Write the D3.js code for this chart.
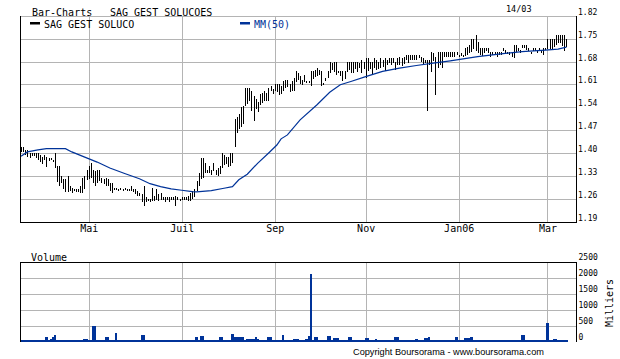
<!DOCTYPE html>
<html>
<head>
<meta charset="utf-8">
<script src="https://cdn.jsdelivr.net/npm/d3@7"></script>
<style>
  body { margin: 0; background: #fff; }
  svg { display: block; }
</style>
</head>
<body>
<svg id="chart" width="620" height="359"></svg>
<script>
// one value per trading day, from 17/03/2005 to 14/03/2006 (one line per week)
const highs = [
  1.42, 1.42,
  1.41, 1.41, 1.40, 1.40, 1.40,
  1.40, 1.40, 1.395, 1.39, 1.395,
  1.39, 1.385, 1.385, 1.38, 1.40,
  1.36, 1.36, 1.33, 1.32, 1.32,
  1.33, 1.30, 1.295, 1.29, 1.29,
  1.29, 1.30, 1.325, 1.33, 1.35,
  1.36, 1.37, 1.35, 1.345, 1.35,
  1.35, 1.325, 1.32, 1.325, 1.32,
  1.31, 1.31, 1.295, 1.295, 1.29,
  1.295, 1.29, 1.295, 1.29, 1.29,
  1.30, 1.29, 1.29, 1.285, 1.28,
  1.275, 1.30, 1.265, 1.26, 1.26,
  1.295, 1.27, 1.29, 1.275, 1.28,
  1.265, 1.265, 1.265, 1.265, 1.265,
  1.265, 1.27, 1.265, 1.26, 1.265,
  1.265, 1.265, 1.27, 1.28, 1.285,
  1.29, 1.315, 1.34, 1.385, 1.385,
  1.37, 1.35, 1.36, 1.35, 1.37,
  1.35, 1.355, 1.36, 1.40, 1.395,
  1.39, 1.39, 1.40, 1.40, 1.505,
  1.51, 1.52, 1.54, 1.545, 1.60,
  1.60, 1.60, 1.59, 1.575, 1.565,
  1.555, 1.58, 1.585, 1.59, 1.585,
  1.60, 1.605, 1.595, 1.61, 1.61,
  1.61, 1.605, 1.62, 1.625, 1.625,
  1.61, 1.62, 1.63, 1.65, 1.645,
  1.635, 1.625, 1.64, 1.62, 1.62,
  1.65, 1.65, 1.655, 1.66, 1.655,
  1.65, 1.615, 1.63, 1.65, 1.68,
  1.675, 1.68, 1.68, 1.65, 1.65,
  1.65, 1.65, 1.68, 1.68, 1.68,
  1.68, 1.68, 1.68, 1.675, 1.685,
  1.68, 1.69, 1.69, 1.68, 1.68,
  1.69, 1.685, 1.68, 1.69, 1.685,
  1.69, 1.685, 1.69, 1.69, 1.69,
  1.68, 1.69, 1.695, 1.69, 1.695,
  1.70, 1.70, 1.70, 1.70, 1.70,
  1.70, 1.70, 1.695, 1.69, 1.685,
  1.685, 1.685, 1.71, 1.705, 1.695,
  1.71, 1.71, 1.71, 1.71, 1.71,
  1.71, 1.71, 1.71, 1.71, 1.71,
  1.70, 1.705, 1.70, 1.72, 1.725,
  1.73, 1.75, 1.75, 1.76, 1.74,
  1.72, 1.72, 1.72, 1.72, 1.72,
  1.71, 1.71, 1.71, 1.71, 1.71,
  1.71, 1.72, 1.715, 1.71, 1.71,
  1.71, 1.73, 1.73, 1.72, 1.715,
  1.73, 1.73, 1.73, 1.72, 1.71,
  1.72, 1.72, 1.715, 1.72, 1.715,
  1.72, 1.72, 1.75, 1.75, 1.75,
  1.75, 1.76, 1.76, 1.76, 1.76,
  1.76, 1.75
]

const lows = [
  1.405, 1.405,
  1.395, 1.39, 1.385, 1.39, 1.39,
  1.385, 1.38, 1.375, 1.37, 1.38,
  1.36, 1.375, 1.38, 1.375, 1.355,
  1.31, 1.30, 1.31, 1.29, 1.28,
  1.28, 1.285, 1.28, 1.285, 1.28,
  1.28, 1.28, 1.28, 1.29, 1.32,
  1.32, 1.325, 1.31, 1.30, 1.31,
  1.315, 1.31, 1.305, 1.30, 1.30,
  1.285, 1.28, 1.29, 1.29, 1.29,
  1.29, 1.29, 1.29, 1.285, 1.29,
  1.285, 1.28, 1.275, 1.27, 1.27,
  1.25, 1.24, 1.25, 1.255, 1.25,
  1.255, 1.255, 1.255, 1.255, 1.26,
  1.255, 1.25, 1.255, 1.25, 1.255,
  1.255, 1.24, 1.255, 1.255, 1.255,
  1.255, 1.255, 1.255, 1.255, 1.26,
  1.265, 1.285, 1.30, 1.32, 1.325,
  1.34, 1.34, 1.34, 1.335, 1.345,
  1.335, 1.33, 1.335, 1.355, 1.365,
  1.37, 1.36, 1.36, 1.37, 1.42,
  1.46, 1.475, 1.48, 1.49, 1.545,
  1.55, 1.56, 1.53, 1.50, 1.535,
  1.525, 1.545, 1.555, 1.56, 1.56,
  1.56, 1.59, 1.58, 1.59, 1.585,
  1.575, 1.58, 1.59, 1.60, 1.605,
  1.585, 1.59, 1.59, 1.615, 1.625,
  1.61, 1.61, 1.62, 1.615, 1.615,
  1.605, 1.625, 1.635, 1.635, 1.64,
  1.605, 1.612, 1.62, 1.63, 1.645,
  1.655, 1.65, 1.64, 1.645, 1.635,
  1.62, 1.625, 1.65, 1.655, 1.645,
  1.645, 1.66, 1.65, 1.66, 1.645,
  1.66, 1.63, 1.65, 1.66, 1.64,
  1.66, 1.655, 1.66, 1.66, 1.665,
  1.65, 1.67, 1.675, 1.67, 1.675,
  1.655, 1.67, 1.67, 1.665, 1.675,
  1.685, 1.675, 1.685, 1.685, 1.685,
  1.685, 1.69, 1.68, 1.67, 1.675,
  1.53, 1.67, 1.65, 1.68, 1.578,
  1.66, 1.67, 1.66, 1.695, 1.695,
  1.695, 1.695, 1.695, 1.695, 1.70,
  1.695, 1.695, 1.695, 1.695, 1.70,
  1.705, 1.71, 1.72, 1.71, 1.705,
  1.70, 1.695, 1.705, 1.71, 1.705,
  1.695, 1.70, 1.70, 1.695, 1.70,
  1.70, 1.71, 1.705, 1.705, 1.70,
  1.695, 1.69, 1.71, 1.71, 1.705,
  1.72, 1.72, 1.715, 1.71, 1.705,
  1.71, 1.71, 1.705, 1.71, 1.705,
  1.70, 1.715, 1.72, 1.72, 1.72,
  1.725, 1.73, 1.735, 1.735, 1.725,
  1.71, 1.725
]

// volume, thousands of shares
const volumes = [
  50, 50,
  50, 50, 50, 50, 50,
  50, 50, 50, 50, 50,
  140, 50, 80, 160, 210,
  50, 50, 50, 60, 50,
  60, 50, 50, 50, 50,
  50, 50, 50, 100, 100,
  50, 50, 480, 480, 50,
  60, 50, 50, 160, 160,
  50, 50, 50, 270, 50,
  50, 50, 50, 50, 50,
  60, 50, 50, 50, 50,
  210, 210, 60, 50, 60,
  50, 50, 50, 50, 50,
  50, 50, 50, 50, 50,
  60, 60, 50, 50, 50,
  50, 60, 60, 60, 50,
  50, 160, 50, 180, 180,
  50, 50, 50, 50, 50,
  50, 50, 150, 150, 50,
  50, 50, 50, 240, 150,
  150, 150, 150, 150, 50,
  100, 100, 100, 100, 150,
  100, 50, 50, 50, 50,
  150, 150, 50, 50, 50,
  50, 50, 220, 50, 50,
  50, 50, 100, 100, 100,
  50, 50, 50, 100, 170,
  2120, 50, 160, 160, 50,
  50, 50, 50, 190, 190,
  50, 120, 120, 120, 50,
  50, 50, 50, 150, 150,
  50, 50, 50, 50, 50,
  50, 120, 120, 50, 50,
  50, 70, 50, 50, 50,
  50, 50, 50, 50, 50,
  160, 160, 50, 50, 50,
  50, 50, 50, 50, 50,
  90, 50, 50, 50, 120,
  120, 160, 50, 50, 50,
  50, 50, 50, 50, 50,
  50, 50, 50, 50, 160,
  50, 50, 50, 120, 120,
  120, 160, 50, 50, 50,
  50, 50, 50, 50, 50,
  50, 50, 50, 50, 50,
  50, 50, 50, 50, 50,
  50, 50, 50, 50, 50,
  220, 220, 50, 50, 50,
  50, 50, 50, 50, 50,
  50, 50, 590, 50, 50,
  80, 80, 50, 50, 50,
  50, 50
]

// MM(50)
const mmDates = [
  '2005-03-17', '2005-03-22', '2005-03-29', '2005-04-04', '2005-04-15', '2005-04-20',
  '2005-04-29', '2005-05-06', '2005-05-16', '2005-05-25', '2005-06-03', '2005-06-10',
  '2005-06-17', '2005-06-24', '2005-07-01', '2005-07-08', '2005-07-12', '2005-07-21',
  '2005-07-29', '2005-08-04', '2005-08-09', '2005-08-15', '2005-08-22', '2005-08-29',
  '2005-09-02', '2005-09-06', '2005-09-09', '2005-09-19', '2005-09-29', '2005-10-07',
  '2005-10-14', '2005-10-21', '2005-11-01', '2005-11-11', '2005-11-23', '2005-12-05',
  '2005-12-15', '2005-12-27', '2006-01-13', '2006-01-31', '2006-02-13', '2006-02-28',
  '2006-03-08', '2006-03-14'
]
const mmValues = [
  1.391, 1.404, 1.410, 1.414, 1.414, 1.404,
  1.386, 1.373, 1.355, 1.338, 1.322, 1.307,
  1.298, 1.291, 1.287, 1.283, 1.282, 1.286,
  1.293, 1.298, 1.319, 1.336, 1.370, 1.400,
  1.425, 1.444, 1.456, 1.502, 1.548, 1.586,
  1.609, 1.619, 1.634, 1.650, 1.660, 1.668,
  1.675, 1.682, 1.695, 1.704, 1.710, 1.715,
  1.718, 1.724
]

const priceTicks = [1.19, 1.26, 1.33, 1.40, 1.47, 1.54, 1.61, 1.68, 1.75, 1.82]
const volumeTicks = [0, 500, 1000, 1500, 2000, 2500]
const monthDates = ['2005-05-01', '2005-07-01', '2005-09-01', '2005-11-01', '2006-01-01', '2006-03-01']
const monthLabels = ['Mai', 'Juil', 'Sep', 'Nov', 'Jan06', 'Mar']

const mono = 'DejaVu Sans Mono, monospace'
const blue = '#003399'
const grey = '#b4b4b4'

const parse = d3.timeParse('%Y-%m-%d')

// trading days (weekdays) from the first bar
const days = []
let d = new Date(2005, 2, 17)
while (days.length < highs.length) {
  if (d.getDay() > 0 && d.getDay() < 6) days.push(d)
  d = d3.timeDay.offset(d, 1)
}
const dayIndex = (s) => d3.bisectLeft(days, parse(s))

const left = 20
const right = 576

const x = d3.scaleLinear()
  .domain([-0.5, 262.5])
  .range([left, right])

const y = d3.scaleLinear()
  .domain([1.19, 1.82])
  .range([222, 15.7])

const yVol = d3.scaleLinear()
  .domain([0, 2500])
  .range([341.7, 261.7])

const step = x(1) - x(0)
const px = (v) => Math.round(v) + 0.5

const svg = d3.select('#chart')

svg.append('rect')
  .attr('width', 620)
  .attr('height', 359)
  .attr('fill', '#fff')

const monthIdx = monthDates.map(dayIndex)

// ---- price panel grid
const grid = svg.append('g')
  .attr('stroke', grey)
  .attr('shape-rendering', 'crispEdges')

grid.selectAll('.hgrid')
  .data(priceTicks)
  .enter()
  .append('line')
  .attr('x1', left)
  .attr('x2', right)
  .attr('y1', (t) => px(y(t)))
  .attr('y2', (t) => px(y(t)))

grid.selectAll('.vgrid')
  .data(monthIdx)
  .enter()
  .append('line')
  .attr('x1', (i) => px(x(i)))
  .attr('x2', (i) => px(x(i)))
  .attr('y1', y(1.82))
  .attr('y2', y(1.19))

// ---- volume panel grid
grid.selectAll('.vhgrid')
  .data(volumeTicks.slice(1, -1))
  .enter()
  .append('line')
  .attr('x1', left)
  .attr('x2', right)
  .attr('y1', (t) => px(yVol(t)))
  .attr('y2', (t) => px(yVol(t)))

grid.selectAll('.vvgrid')
  .data(monthIdx)
  .enter()
  .append('line')
  .attr('x1', (i) => px(x(i)))
  .attr('x2', (i) => px(x(i)))
  .attr('y1', yVol(2500))
  .attr('y2', yVol(0))

// ---- legend (drawn inside the top band)
svg.append('text')
  .attr('x', 32).attr('y', 16)
  .attr('font-family', mono).attr('font-size', 10)
  .text('Bar-Charts')
svg.append('text')
  .attr('x', 110).attr('y', 16)
  .attr('font-family', mono).attr('font-size', 10)
  .text('SAG GEST SOLUCOES')
svg.append('text')
  .attr('x', 506).attr('y', 12.3)
  .attr('font-family', mono).attr('font-size', 8.5)
  .text('14/03')

svg.append('rect')
  .attr('x', 30).attr('y', 22).attr('width', 10).attr('height', 2.5)
  .attr('fill', '#000')
svg.append('text')
  .attr('x', 44).attr('y', 28)
  .attr('font-family', mono).attr('font-size', 10)
  .text('SAG GEST SOLUCO')
svg.append('rect')
  .attr('x', 240).attr('y', 22).attr('width', 10).attr('height', 2.5)
  .attr('fill', blue)
svg.append('text')
  .attr('x', 254).attr('y', 28)
  .attr('font-family', mono).attr('font-size', 10)
  .attr('fill', blue)
  .text('MM(50)')

// ---- price bars (high-low)
svg.append('g')
  .attr('shape-rendering', 'crispEdges')
  .selectAll('rect')
  .data(highs)
  .enter()
  .append('rect')
  .attr('x', (h, i) => Math.round(x(i)))
  .attr('y', (h) => Math.round(y(h)))
  .attr('width', 1)
  .attr('height', (h, i) => Math.max(2, Math.round(y(lows[i]) - y(h))))
  .attr('fill', '#000')

// ---- MM(50)
const mm = mmDates.map((s, i) => ({i: dayIndex(s), v: mmValues[i]}))
svg.append('path')
  .datum(mm)
  .attr('fill', 'none')
  .attr('stroke', blue)
  .attr('stroke-width', 1.2)
  .attr('d', d3.line().x((p) => x(p.i)).y((p) => y(p.v)))

// ---- volume bars
svg.append('g')
  .attr('shape-rendering', 'crispEdges')
  .selectAll('rect')
  .data(volumes)
  .enter()
  .append('rect')
  .attr('x', (v, i) => x(i) - step / 2)
  .attr('y', (v) => yVol(v))
  .attr('width', step + 0.2)
  .attr('height', (v) => yVol(0) - yVol(v))
  .attr('fill', blue)

// ---- frames
const frame = svg.append('g')
  .attr('stroke', '#000')
  .attr('shape-rendering', 'crispEdges')
frame.append('line').attr('x1', px(left)).attr('x2', px(left)).attr('y1', y(1.82)).attr('y2', y(1.19))
frame.append('line').attr('x1', px(right)).attr('x2', px(right)).attr('y1', y(1.82)).attr('y2', y(1.19))
frame.append('line').attr('x1', left).attr('x2', right + 1).attr('y1', px(y(1.19))).attr('y2', px(y(1.19)))
frame.append('line').attr('x1', left).attr('x2', right + 1).attr('y1', px(yVol(2500))).attr('y2', px(yVol(2500)))
frame.append('line').attr('x1', px(left)).attr('x2', px(left)).attr('y1', yVol(2500)).attr('y2', yVol(0))
frame.append('line').attr('x1', px(right)).attr('x2', px(right)).attr('y1', yVol(2500)).attr('y2', yVol(0))

// ---- axes
const styleAxis = (g, size) => {
  g.select('.domain').remove()
  g.attr('font-family', mono).attr('font-size', size)
  g.selectAll('text').attr('fill', '#000')
}

svg.append('g')
  .attr('transform', 'translate(' + right + ',0)')
  .call(d3.axisRight(y).tickValues(priceTicks).tickSize(0).tickPadding(2).tickFormat(d3.format('.2f')))
  .call((g) => styleAxis(g, 8))
  .selectAll('text').attr('dy', -1.5)

svg.append('g')
  .attr('transform', 'translate(' + right + ',0)')
  .call(d3.axisRight(yVol).tickValues(volumeTicks).tickSize(0).tickPadding(2.5).tickFormat(d3.format('d')))
  .call((g) => styleAxis(g, 8))
  .selectAll('text').attr('dy', -2)

svg.append('g')
  .attr('transform', 'translate(0,' + y(1.19) + ')')
  .call(d3.axisBottom(x).tickValues(monthIdx).tickSize(0).tickPadding(2.5).tickFormat((v, i) => monthLabels[i]))
  .call((g) => styleAxis(g, 10))

svg.append('text')
  .attr('x', 31).attr('y', 260.5)
  .attr('font-family', mono).attr('font-size', 10)
  .text('Volume')

svg.append('text')
  .attr('transform', 'translate(613,303) rotate(-90)')
  .attr('text-anchor', 'middle')
  .attr('font-family', mono).attr('font-size', 10)
  .text('Milliers')

svg.append('text')
  .attr('x', 448.5).attr('y', 354.5)
  .attr('text-anchor', 'middle')
  .attr('font-family', 'Liberation Sans, Arial, sans-serif').attr('font-size', 9.2)
  .text('Copyright Boursorama - www.boursorama.com')
</script>
</body>
</html>
